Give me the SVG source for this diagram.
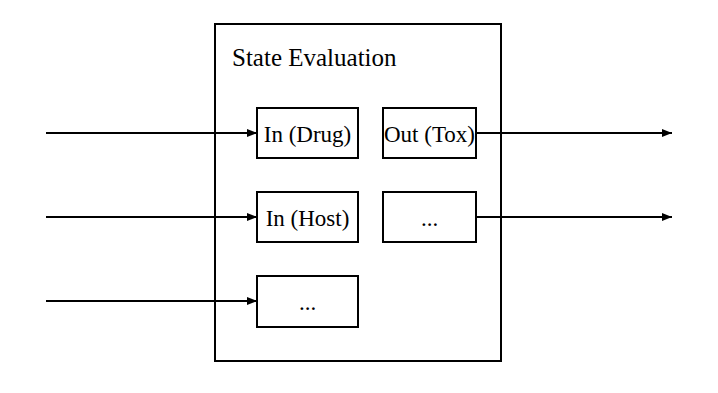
<svg xmlns="http://www.w3.org/2000/svg" width="718" height="393" viewBox="0 0 718 393">
<style>
.box{fill:none;stroke:#000;stroke-width:2}
.lbl{font-family:"Liberation Serif","Times New Roman",serif;font-size:23px;fill:#000;text-anchor:middle}
.ttl{font-family:"Liberation Serif","Times New Roman",serif;font-size:25px;fill:#000}
.conn{stroke:#000;stroke-width:2;fill:none;marker-end:url(#arr)}
</style>
<defs>
<marker id="arr" viewBox="0 0 10 8" refX="10" refY="4" markerWidth="10" markerHeight="8" markerUnits="userSpaceOnUse" orient="auto">
<path d="M0,0 L10,4 L0,8 Z" fill="#000"/>
</marker>
</defs>
<rect width="718" height="393" fill="#fff"/>
<g id="state-evaluation">
<rect class="box" x="215" y="24" width="286" height="337"/>
<text class="ttl" x="232" y="66">State Evaluation</text>
</g>
<g id="in-drug">
<rect class="box" x="257" y="108" width="101" height="50"/>
<text class="lbl" x="307.5" y="142">In (Drug)</text>
</g>
<g id="out-tox">
<rect class="box" x="383" y="108" width="93" height="50"/>
<text class="lbl" x="429.5" y="142">Out (Tox)</text>
</g>
<g id="in-host">
<rect class="box" x="257" y="192" width="101" height="50"/>
<text class="lbl" x="307.5" y="226">In (Host)</text>
</g>
<g id="out-more">
<rect class="box" x="383" y="192" width="93" height="50"/>
<text class="lbl" x="429.5" y="226">...</text>
</g>
<g id="in-more">
<rect class="box" x="257" y="276" width="101" height="51"/>
<text class="lbl" x="307.5" y="310">...</text>
</g>
<g id="connectors">
<line class="conn" x1="46" y1="133" x2="257" y2="133"/>
<line class="conn" x1="46" y1="217" x2="257" y2="217"/>
<line class="conn" x1="46" y1="301" x2="257" y2="301"/>
<line class="conn" x1="476" y1="133" x2="672" y2="133"/>
<line class="conn" x1="476" y1="217" x2="672" y2="217"/>
</g>
</svg>
